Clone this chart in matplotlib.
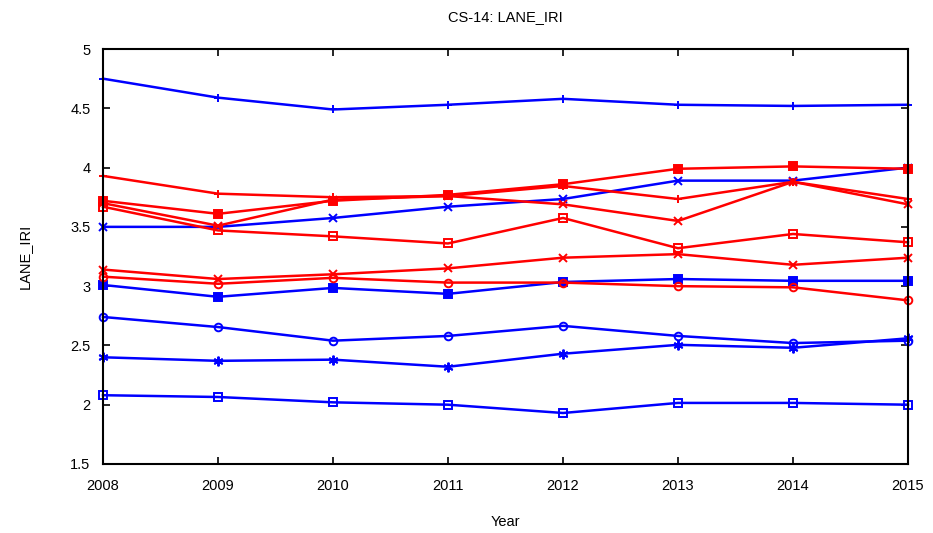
import matplotlib.pyplot as plt

plt.rcParams["font.family"] = ["Liberation Sans", "DejaVu Sans"]

years = [2008, 2009, 2010, 2011, 2012, 2013, 2014, 2015]

# blue sections
blue_plus = [4.75, 4.59, 4.49, 4.53, 4.58, 4.53, 4.52, 4.53]
blue_x = [3.50, 3.50, 3.575, 3.67, 3.735, 3.89, 3.89, 4.00]
blue_square = [3.01, 2.91, 2.985, 2.935, 3.035, 3.06, 3.045, 3.045]
blue_circle = [2.74, 2.655, 2.54, 2.58, 2.665, 2.58, 2.52, 2.54]
blue_star = [2.40, 2.37, 2.38, 2.32, 2.43, 2.505, 2.48, 2.56]
blue_open_sq = [2.08, 2.065, 2.02, 2.00, 1.93, 2.015, 2.015, 2.00]

# red sections
red_plus = [3.93, 3.78, 3.75, 3.76, 3.845, 3.735, 3.88, 3.735]
red_square = [3.72, 3.61, 3.72, 3.77, 3.86, 3.99, 4.01, 3.99]
red_x_high = [3.70, 3.51, 3.73, 3.76, 3.69, 3.55, 3.88, 3.69]
red_open_sq = [3.67, 3.47, 3.42, 3.36, 3.575, 3.32, 3.44, 3.37]
red_x_low = [3.14, 3.06, 3.10, 3.15, 3.24, 3.27, 3.18, 3.24]
red_circle = [3.08, 3.02, 3.07, 3.03, 3.03, 3.00, 2.99, 2.88]

asterisk = (6, 2, 0)

series = [
    (blue_plus, "blue", "+", "blue"),
    (blue_x, "blue", "x", "blue"),
    (blue_square, "blue", "s", "blue"),
    (blue_circle, "blue", "o", "none"),
    (blue_star, "blue", asterisk, "blue"),
    (blue_open_sq, "blue", "s", "none"),
    (red_plus, "red", "+", "red"),
    (red_square, "red", "s", "red"),
    (red_x_high, "red", "x", "red"),
    (red_open_sq, "red", "s", "none"),
    (red_x_low, "red", "x", "red"),
    (red_circle, "red", "o", "none"),
]

fig = plt.figure(figsize=(9.33, 5.33), dpi=100)
ax = fig.add_axes([0.1104, 0.1295, 0.8628, 0.7785])

for vals, color, marker, face in series:
    size = 7 if marker == asterisk else 5.5
    ax.plot(years, vals, color=color, linewidth=1.8, marker=marker,
            markersize=size, markerfacecolor=face, markeredgecolor=color,
            markeredgewidth=1.4, clip_on=False)

ax.set_xlim(2008, 2015)
ax.set_ylim(1.5, 5)
ax.set_xticks(years)
ax.set_yticks([1.5, 2, 2.5, 3, 3.5, 4, 4.5, 5])
ax.set_yticklabels(["1.5", "2", "2.5", "3", "3.5", "4", "4.5", "5"])

ax.tick_params(direction="in", top=True, right=True, length=5, width=1.2,
               labelsize=10.5)
ax.tick_params(axis="x", pad=11)
ax.tick_params(axis="y", pad=9)
for sp in ax.spines.values():
    sp.set_linewidth(1.5)

ax.set_title("CS-14: LANE_IRI", fontsize=10.5, pad=20)
ax.set_xlabel("Year", fontsize=10.5, labelpad=16)
ax.set_ylabel("LANE_IRI", fontsize=10.5, labelpad=28)

fig.savefig("out.png", dpi=100, facecolor="white")
